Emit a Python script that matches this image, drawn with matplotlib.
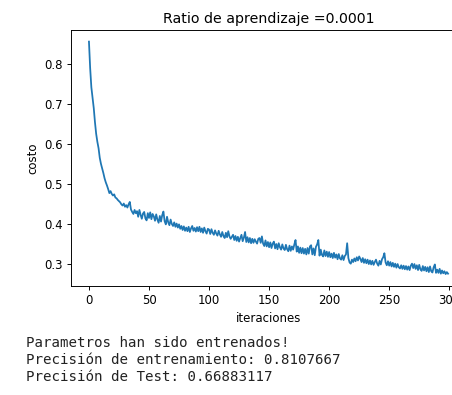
import matplotlib
matplotlib.use("Agg")
import matplotlib.pyplot as plt
import numpy as np

# coste por iteracion
costs = [
    0.856, 0.790, 0.742, 0.716, 0.690, 0.655, 0.626, 0.606, 0.590, 0.566,
    0.551, 0.540, 0.528, 0.515, 0.505, 0.497, 0.488, 0.478, 0.483, 0.476,
    0.472, 0.475, 0.467, 0.465, 0.461, 0.458, 0.455, 0.450, 0.447, 0.452,
    0.444, 0.448, 0.442, 0.450, 0.456, 0.437, 0.431, 0.426, 0.436, 0.428,
    0.433, 0.419, 0.436, 0.424, 0.414, 0.427, 0.431, 0.415, 0.410, 0.428,
    0.416, 0.430, 0.413, 0.426, 0.420, 0.409, 0.425, 0.412, 0.404, 0.421,
    0.407, 0.423, 0.432, 0.408, 0.400, 0.419, 0.405, 0.398, 0.412, 0.401,
    0.396, 0.405, 0.394, 0.402, 0.392, 0.400, 0.389, 0.396, 0.386, 0.395,
    0.384, 0.392, 0.383, 0.394, 0.381, 0.390, 0.396, 0.384, 0.391, 0.382,
    0.393, 0.383, 0.394, 0.381, 0.390, 0.379, 0.392, 0.383, 0.377, 0.389,
    0.387, 0.376, 0.388, 0.379, 0.374, 0.385, 0.377, 0.372, 0.384, 0.375,
    0.369, 0.381, 0.371, 0.366, 0.379, 0.368, 0.383, 0.370, 0.364, 0.369,
    0.374, 0.361, 0.371, 0.359, 0.369, 0.357, 0.366, 0.374, 0.358, 0.367,
    0.381, 0.356, 0.368, 0.355, 0.366, 0.353, 0.364, 0.354, 0.363, 0.357,
    0.352, 0.364, 0.366, 0.354, 0.370, 0.352, 0.346, 0.360, 0.345, 0.356,
    0.343, 0.355, 0.341, 0.352, 0.357, 0.340, 0.351, 0.338, 0.353, 0.343,
    0.337, 0.350, 0.340, 0.336, 0.349, 0.338, 0.333, 0.347, 0.334, 0.345,
    0.337, 0.350, 0.361, 0.332, 0.345, 0.329, 0.342, 0.328, 0.341, 0.327,
    0.339, 0.325, 0.341, 0.327, 0.345, 0.348, 0.325, 0.340, 0.323, 0.344,
    0.350, 0.361, 0.322, 0.337, 0.324, 0.320, 0.335, 0.321, 0.332, 0.319,
    0.331, 0.318, 0.327, 0.316, 0.329, 0.317, 0.325, 0.313, 0.326, 0.315,
    0.312, 0.323, 0.311, 0.321, 0.325, 0.353, 0.316, 0.305, 0.302, 0.312,
    0.306, 0.315, 0.308, 0.318, 0.310, 0.320, 0.314, 0.306, 0.316, 0.304,
    0.313, 0.303, 0.312, 0.301, 0.310, 0.300, 0.309, 0.299, 0.306, 0.312,
    0.302, 0.297, 0.309, 0.300, 0.313, 0.318, 0.328, 0.305, 0.298, 0.308,
    0.297, 0.306, 0.295, 0.304, 0.294, 0.302, 0.292, 0.301, 0.293, 0.290,
    0.298, 0.289, 0.297, 0.288, 0.296, 0.287, 0.295, 0.286, 0.297, 0.302,
    0.291, 0.301, 0.289, 0.298, 0.286, 0.299, 0.288, 0.284, 0.296, 0.285,
    0.294, 0.283, 0.293, 0.281, 0.295, 0.283, 0.280, 0.293, 0.300, 0.279,
    0.287, 0.279, 0.289, 0.277, 0.285, 0.278, 0.283, 0.276, 0.281, 0.277,
]
learning_rate = 0.0001
output_lines = [
    "Parametros han sido entrenados!",
    "Precisión de entrenamiento: 0.8107667",
    "Precisión de Test: 0.66883117",
]

DPI = 85
fig = plt.figure(figsize=(452 / DPI, 395 / DPI), dpi=DPI)
# the axes run past the right edge, as in the cropped screenshot
ax = fig.add_axes([71 / 452, 109.3 / 395, 395 / 452, 255.7 / 395])

ax.plot(np.arange(len(costs)), costs, color="#1f77b4", linewidth=1.5)
ax.set_yticks([0.3, 0.4, 0.5, 0.6, 0.7, 0.8])
ax.set_xticks([0, 50, 100, 150, 200, 250, 300])
ax.set_ylabel("costo")
ax.set_xlabel("iteraciones")
ax.set_title("Ratio de aprendizaje =" + str(learning_rate))

for k, line in enumerate(output_lines):
    fig.text(26 / 452, 1 - (343 + 17 * k) / 395, line, family="DejaVu Sans Mono",
             fontsize=12, color="#222222", va="center", ha="left")

fig.savefig("out.png", dpi=DPI)
